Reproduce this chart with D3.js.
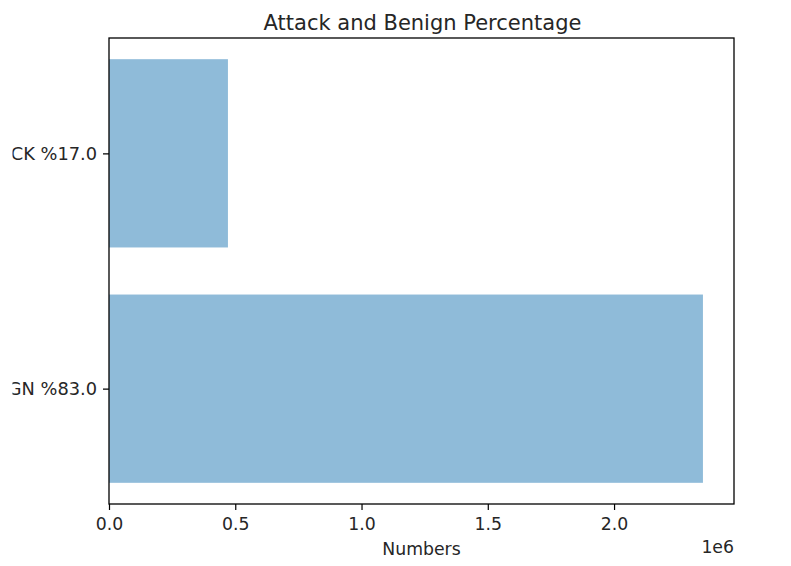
<!DOCTYPE html>
<html><head><meta charset="utf-8">
<script src="https://cdn.jsdelivr.net/npm/d3@7"></script>
<style>body{margin:0;background:#fff;} text{font-family:"DejaVu Sans",sans-serif;fill:#262626;}</style>
</head><body>
<svg id="c" width="791" height="566"></svg>
<script>
const categories = ["BENIGN %83.0", "ATTACK %17.0"];
const values = [2352000, 471000];
const xTicks = [0, 500000, 1000000, 1500000, 2000000];
const xTickLabels = ["0.0", "0.5", "1.0", "1.5", "2.0"];
const title = "Attack and Benign Percentage";
const xLabel = "Numbers";

const svg = d3.select("#c");
const L = 109, R = 734, T = 38, B = 504;
const x = d3.scaleLinear().domain([0, 2475000]).range([L, R]);
const y = d3.scaleLinear().domain([-0.49, 1.49]).range([B, T]);
const barH = 0.8;
const fs = 17.3;

// the original figure's left edge clipped the category labels
svg.append("defs").append("clipPath").attr("id", "figclip")
  .append("rect").attr("x", 12.5).attr("y", 0).attr("width", 779).attr("height", 566);

svg.append("g").selectAll("rect").data(values).join("rect")
  .attr("x", x(0))
  .attr("y", (d, i) => y(i + barH / 2))
  .attr("width", d => x(d) - x(0))
  .attr("height", y(0) - y(barH))
  .attr("fill", "#8fbbd9");

// frame
svg.append("rect").attr("x", L).attr("y", T).attr("width", R - L).attr("height", B - T)
  .attr("fill", "none").attr("stroke", "#000").attr("stroke-width", 1.3);

const xa = svg.append("g").attr("transform", `translate(0,${B})`)
  .call(d3.axisBottom(x).tickValues(xTicks).tickFormat((d, i) => xTickLabels[i]).tickSize(6).tickPadding(8));
xa.select(".domain").remove();
xa.selectAll("text").attr("font-size", fs).attr("font-family", "DejaVu Sans").attr("fill", "#262626");
xa.selectAll("line").attr("stroke", "#000").attr("stroke-width", 1.2);

const yWrap = svg.append("g").attr("clip-path", "url(#figclip)");
const ya = yWrap.append("g").attr("transform", `translate(${L},0)`)
  .call(d3.axisLeft(y).tickValues([0, 1]).tickFormat((d) => categories[d]).tickSize(6).tickPadding(6));
ya.select(".domain").remove();
ya.selectAll("text").attr("font-size", 17.8).attr("font-family", "DejaVu Sans").attr("fill", "#262626")
  .style("font-kerning", "none");
ya.selectAll("line").attr("stroke", "#000").attr("stroke-width", 1.2);

svg.append("text").attr("x", (L + R) / 2 + 1).attr("y", 30).attr("text-anchor", "middle")
  .attr("font-size", 21).text(title);
svg.append("text").attr("x", (L + R) / 2).attr("y", 555).attr("text-anchor", "middle")
  .attr("font-size", fs).text(xLabel);
svg.append("text").attr("x", R).attr("y", 553).attr("text-anchor", "end")
  .attr("font-size", fs).text("1e6");
</script>
</body></html>
